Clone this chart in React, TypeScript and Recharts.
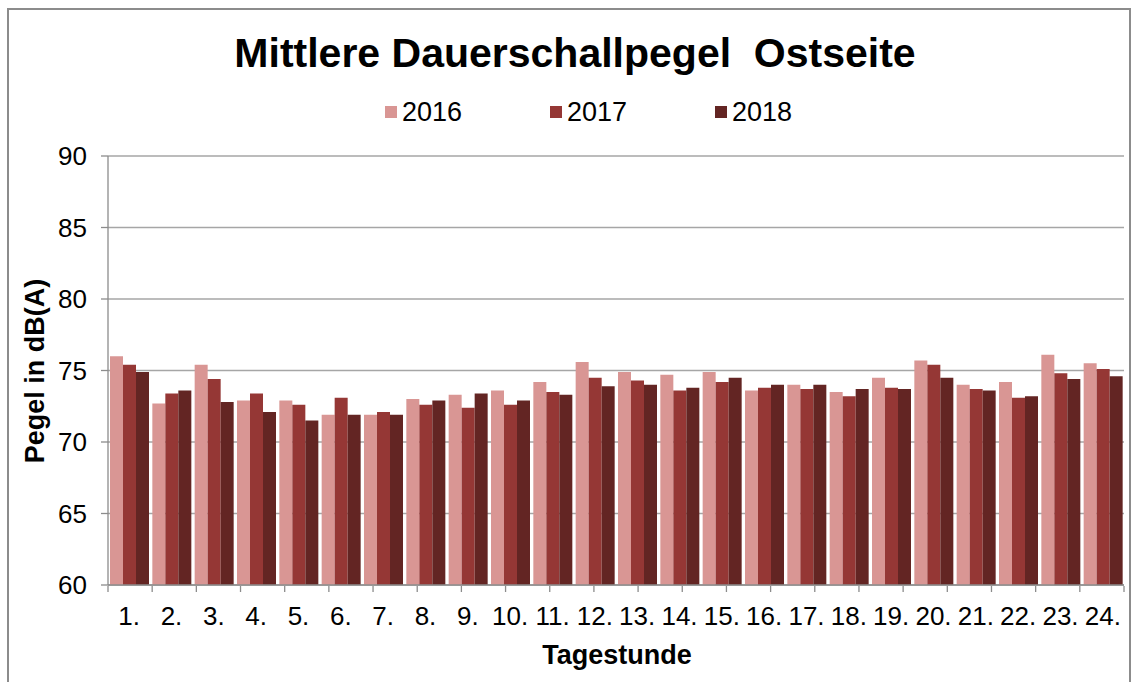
import React from "react";
import { BarChart, Bar, XAxis, YAxis, CartesianGrid, Legend } from "recharts";

const hours = ["1.", "2.", "3.", "4.", "5.", "6.", "7.", "8.", "9.", "10.", "11.", "12.", "13.", "14.", "15.", "16.", "17.", "18.", "19.", "20.", "21.", "22.", "23.", "24."];
const v2016 = [76.0, 72.7, 75.4, 72.9, 72.9, 71.9, 71.9, 73.0, 73.3, 73.6, 74.2, 75.6, 74.9, 74.7, 74.9, 73.6, 74.0, 73.5, 74.5, 75.7, 74.0, 74.2, 76.1, 75.5];
const v2017 = [75.4, 73.4, 74.4, 73.4, 72.6, 73.1, 72.1, 72.6, 72.4, 72.6, 73.5, 74.5, 74.3, 73.6, 74.2, 73.8, 73.7, 73.2, 73.8, 75.4, 73.7, 73.1, 74.8, 75.1];
const v2018 = [74.9, 73.6, 72.8, 72.1, 71.5, 71.9, 71.9, 72.9, 73.4, 72.9, 73.3, 73.9, 74.0, 73.8, 74.5, 74.0, 74.0, 73.7, 73.7, 74.5, 73.6, 73.2, 74.4, 74.6];
const yTicks = [60, 65, 70, 75, 80, 85, 90];
const yMinorTicks = Array.from({ length: 31 }, (_, i) => 60 + i);
const edgeTicks = Array.from({ length: 25 }, (_, i) => i);

const data = hours.map((h, i) => ({ hour: h, y2016: v2016[i], y2017: v2017[i], y2018: v2018[i] }));

const FONT = '"Liberation Sans", Arial, sans-serif';
const AXIS = "#8C8C8C";

const LegendContent = (props: any) => {
  const { payload } = props;
  return (
    <div style={{ display: "flex", justifyContent: "center", fontFamily: FONT, fontSize: 27, color: "#000" }}>
      {(payload || []).map((p: any, i: number) => (
        <div key={i} style={{ display: "flex", alignItems: "center", marginLeft: i === 0 ? 0 : 88 }}>
          <span style={{ display: "inline-block", width: 12, height: 12, background: p.color, marginRight: 5 }} />
          <span style={{ lineHeight: "30px" }}>{p.value}</span>
        </div>
      ))}
    </div>
  );
};

export default function App() {
  return (
    <div style={{ position: "absolute", left: 0, top: 0, width: 1133, height: 682, overflow: "hidden", background: "#fff" }}>
      <div style={{ position: "absolute", left: 7, top: 8, width: 1124, height: 720, border: "2px solid #8C8C8C", boxSizing: "border-box" }} />
      <div style={{ position: "absolute", left: 0, top: 0 }}>
        <BarChart width={1133} height={682} data={data} margin={{ top: 156, right: 9, bottom: 95, left: 106 }} barCategoryGap={2} barGap={0}>
          <CartesianGrid vertical={false} stroke="#A6A6A6" strokeWidth={1.3} />
          <XAxis dataKey="hour" height={1} tickSize={0} tickMargin={22} tickLine={false} axisLine={{ stroke: AXIS, strokeWidth: 1.3 }} tick={{ fill: "#000", fontSize: 26, fontFamily: FONT }} interval={0} />
          <XAxis xAxisId="edges" type="number" domain={[0, 24]} ticks={edgeTicks} height={1} tickSize={6} axisLine={false} tickLine={{ stroke: AXIS, strokeWidth: 1.3 }} tickFormatter={() => ""} interval={0} />
          <YAxis domain={[60, 90]} ticks={yTicks} width={1} tickSize={7} tickMargin={14} axisLine={{ stroke: AXIS, strokeWidth: 1.3 }} tickLine={{ stroke: AXIS, strokeWidth: 1.3 }} tick={{ fill: "#000", fontSize: 26, fontFamily: FONT }} interval={0} />
          <YAxis yAxisId="minor" domain={[60, 90]} ticks={yMinorTicks} width={1} tickSize={4} axisLine={false} tickLine={{ stroke: AXIS, strokeWidth: 1 }} tickFormatter={() => ""} interval={0} />
          <Legend layout="horizontal" verticalAlign="middle" align="center" wrapperStyle={{ top: 97, left: 22, width: 1133, height: 30 }} content={<LegendContent />} />
          <Bar dataKey="y2016" name="2016" fill="#D99694" isAnimationActive={false} />
          <Bar dataKey="y2017" name="2017" fill="#953735" isAnimationActive={false} />
          <Bar dataKey="y2018" name="2018" fill="#632523" isAnimationActive={false} />
        </BarChart>
      </div>
      <svg width={1133} height={682} style={{ position: "absolute", left: 0, top: 0, pointerEvents: "none" }}>
        <text x={575} y={67} textAnchor="middle" fontFamily={FONT} fontWeight="bold" fontSize={41} fill="#000" style={{ whiteSpace: "pre" }}>
          {"Mittlere Dauerschallpegel  Ostseite"}
        </text>
        <text x={44} y={371} transform="rotate(-90 44 371)" textAnchor="middle" fontFamily={FONT} fontWeight="bold" fontSize={27} fill="#000">
          Pegel in dB(A)
        </text>
        <text x={617} y={664} textAnchor="middle" fontFamily={FONT} fontWeight="bold" fontSize={27} fill="#000">
          Tagestunde
        </text>
      </svg>
    </div>
  );
}
